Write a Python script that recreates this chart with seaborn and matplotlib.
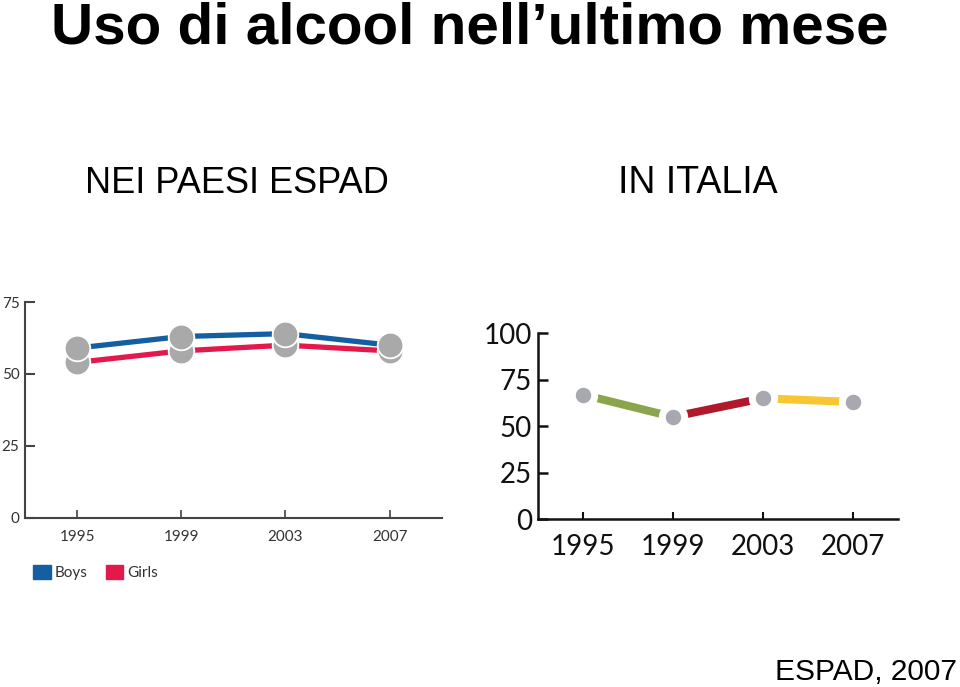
import numpy as np
import pandas as pd
import seaborn as sns
import matplotlib
matplotlib.use("Agg")
import matplotlib.pyplot as plt
from matplotlib.patches import Patch

# ---------------- data ----------------
years = [1995, 1999, 2003, 2007]
boys = [59, 63, 64, 60]
girls = [54, 58, 60, 58]
italy = [67, 55, 65, 63]
left_yticks = [0, 25, 50, 75]
right_yticks = [0, 25, 50, 75, 100]
series_names = ["Boys", "Girls"]
segment_colors = ["#8ba54c", "#b0182b", "#f9c531"]

# ---------------- style ----------------
sns.set_theme(style="white")
plt.rcParams["font.family"] = ["Liberation Sans", "DejaVu Sans"]

BLUE = "#135fa1"
RED = "#e3194c"
GREY_L = "#a9a9a9"
GREY_R = "#a8a8b0"

fig = plt.figure(figsize=(9.6, 6.87), dpi=100)

# ---------------- left chart ----------------
axL = fig.add_axes([25 / 960, 1 - 517.7 / 687, (441.7 - 25) / 960, (517.7 - 302) / 687])
df_l = pd.DataFrame({
    "year": years * 2,
    "value": girls + boys,
    "sex": ["Girls"] * len(years) + ["Boys"] * len(years),
})
sns.lineplot(data=df_l, x="year", y="value", hue="sex",
             palette={"Boys": BLUE, "Girls": RED}, linewidth=3.8,
             legend=False, ax=axL, sort=False)
sns.scatterplot(data=df_l, x="year", y="value", color=GREY_L, s=340,
                edgecolor="white", linewidth=1.3, legend=False, ax=axL, zorder=5)
axL.set_xlim(1993, 2009)
axL.set_ylim(0, 75)
axL.set_xticks(years)
axL.set_yticks(left_yticks)
axL.set_xlabel("")
axL.set_ylabel("")
for s in ["top", "right"]:
    axL.spines[s].set_visible(False)
for s in ["left", "bottom"]:
    axL.spines[s].set_color("#444444")
    axL.spines[s].set_linewidth(1.5)
axL.tick_params(axis="y", direction="in", length=7.5, width=1.5, color="#444444",
                labelsize=11, labelcolor="#333333", pad=4, left=True)
axL.tick_params(axis="x", direction="in", length=5.5, width=1.2, color="#444444",
                labelsize=11, labelcolor="#333333", pad=9, bottom=True)
for lab in axL.get_xticklabels() + axL.get_yticklabels():
    lab.set_family(["Lato", "DejaVu Sans"])

handles = [Patch(facecolor=BLUE, edgecolor=BLUE), Patch(facecolor=RED, edgecolor=RED)]
leg = fig.legend(handles, series_names, loc="upper left",
                 bbox_to_anchor=(33 / 960, 1 - 565 / 687), ncol=2, frameon=False,
                 handlelength=1.15, handleheight=1.05, handletextpad=0.25,
                 columnspacing=1.2, borderpad=0, borderaxespad=0,
                 prop={"family": ["Lato", "DejaVu Sans"], "size": 11})
for t in leg.get_texts():
    t.set_color("#333333")

# ---------------- right chart ----------------
axR = fig.add_axes([537.7 / 960, 1 - 519 / 687, (898 - 537.7) / 960, (519 - 333.3) / 687])
seg_x, seg_y, seg_id = [], [], []
for i in range(len(years) - 1):
    for j in (i, i + 1):
        seg_x.append(years[j])
        seg_y.append(italy[j])
        seg_id.append(f"s{i}")
df_seg = pd.DataFrame({"year": seg_x, "value": seg_y, "seg": seg_id})
sns.lineplot(data=df_seg, x="year", y="value", hue="seg",
             palette=segment_colors, linewidth=5.8, legend=False, ax=axR,
             sort=False)
for ln in axR.get_lines():
    ln.set_solid_capstyle("butt")
df_r = pd.DataFrame({"year": years, "value": italy})
sns.scatterplot(data=df_r, x="year", y="value", color=GREY_R, s=260,
                edgecolor="white", linewidth=5.0, legend=False, ax=axR, zorder=5)
axR.set_xlim(1993, 2009)
axR.set_ylim(0, 100)
axR.set_xticks(years)
axR.set_yticks(right_yticks)
axR.set_xlabel("")
axR.set_ylabel("")
for s in ["top", "right"]:
    axR.spines[s].set_visible(False)
for s in ["left", "bottom"]:
    axR.spines[s].set_color("#111111")
    axR.spines[s].set_linewidth(1.8)
axR.tick_params(axis="y", direction="in", length=7.5, width=1.8, color="#111111",
                labelsize=20, labelcolor="#111111", pad=4, left=True)
axR.tick_params(axis="x", direction="in", length=5, width=1.5, color="#111111",
                labelsize=20, labelcolor="#111111", pad=11, bottom=True)
for lab in axR.get_xticklabels() + axR.get_yticklabels():
    lab.set_family(["Lato", "DejaVu Sans"])

# ---------------- texts ----------------
fig.text(470 / 960, 1 - 43 / 687, "Uso di alcool nell\u2019ultimo mese",
         ha="center", va="baseline", fontsize=42, fontweight="bold", color="black")
fig.text(85 / 960, 1 - 193 / 687, "NEI PAESI ESPAD", ha="left", va="baseline",
         fontsize=26, color="black")
fig.text(618 / 960, 1 - 193 / 687, "IN ITALIA", ha="left", va="baseline",
         fontsize=27, color="black")
fig.text(957 / 960, 1 - 680 / 687, "ESPAD, 2007", ha="right", va="baseline",
         fontsize=21.5, color="black")

fig.savefig("out.png", dpi=100)
